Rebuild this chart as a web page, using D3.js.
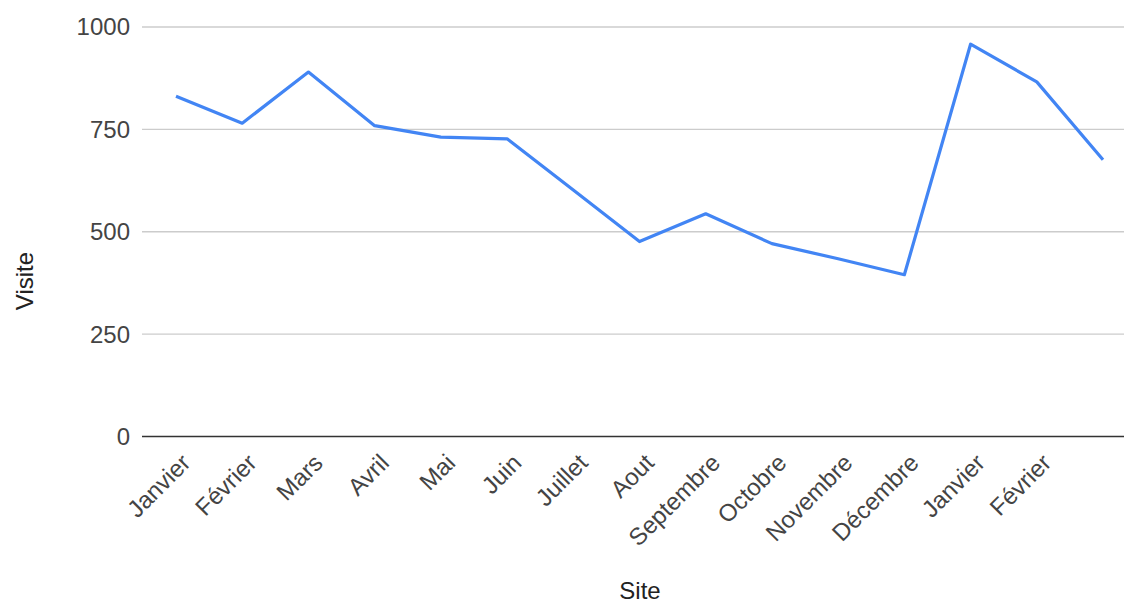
<!DOCTYPE html>
<html><head><meta charset="utf-8">
<script src="https://cdn.jsdelivr.net/npm/d3@7"></script>
<style>body{margin:0;background:#fff}svg{display:block;font-family:"Liberation Sans",Arial,sans-serif}</style>
</head><body><svg id="c" width="1124" height="604"></svg>
<script>
const categories = ["Janvier","Février","Mars","Avril","Mai","Juin","Juillet","Aout","Septembre","Octobre","Novembre","Décembre","Janvier","Février",""];
const visites = [831,765,890,759,731,727,602,476,544,471,434,395,958,866,676];
const yTicks = [0,250,500,750,1000];

const svg = d3.select("#c");
const idx = categories.map((d,i)=>i);
const x = d3.scalePoint().domain(idx).range([176,1103]);
const y = d3.scaleLinear().domain([0,1000]).range([436.5,27]);
const fs = 24;

svg.append("g").selectAll("line").data(yTicks.filter(t=>t!==0)).join("line")
  .attr("x1",142).attr("x2",1124).attr("y1",d=>y(d)).attr("y2",d=>y(d))
  .attr("stroke","#cccccc").attr("stroke-width",1.3);

svg.append("g").selectAll("text").data(yTicks).join("text")
  .attr("x",130).attr("y",d=>y(d)).attr("dy","0.35em").attr("text-anchor","end")
  .attr("font-size",fs).attr("fill","#444").text(d=>d);

svg.append("line").attr("x1",142).attr("x2",1124).attr("y1",y(0)).attr("y2",y(0))
  .attr("stroke","#333").attr("stroke-width",1.6);

svg.append("g").selectAll("text").data(idx).join("text")
  .attr("transform",i=>`translate(${x(i)+4},${y(0)+16}) rotate(-45)`)
  .attr("text-anchor","end").attr("dy","0.7em")
  .attr("font-size",fs).attr("fill","#444").text(i=>categories[i]);

svg.append("path").datum(visites)
  .attr("d",d3.line().x((d,i)=>x(i)).y(d=>y(d)))
  .attr("fill","none").attr("stroke","#4285F4").attr("stroke-width",3.2)
  .attr("stroke-linejoin","round");

svg.append("text").attr("transform","translate(33,281) rotate(-90)")
  .attr("text-anchor","middle").attr("font-size",fs).attr("fill","#222").text("Visite");
svg.append("text").attr("x",640).attr("y",599)
  .attr("text-anchor","middle").attr("font-size",fs).attr("fill","#222").text("Site");
</script></body></html>
